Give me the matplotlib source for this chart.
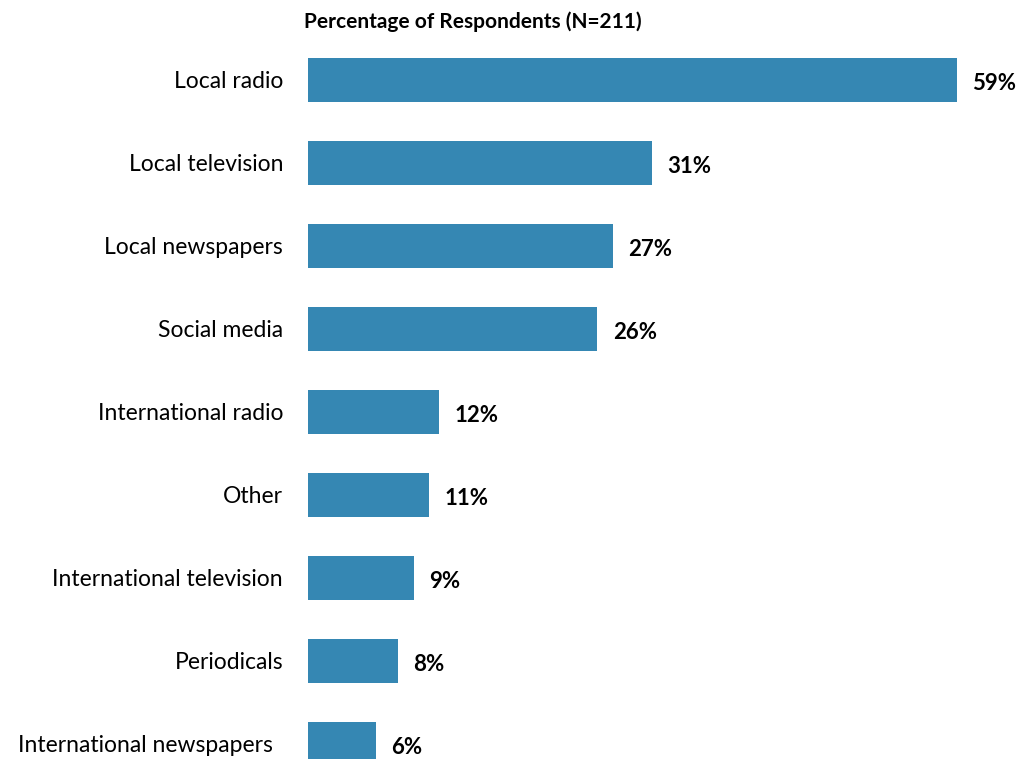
import matplotlib.pyplot as plt
import matplotlib.transforms as mtransforms

categories = ['Local radio', 'Local television', 'Local newspapers', 'Social media',
              'International radio', 'Other', 'International television',
              'Periodicals', 'International newspapers']
values = [59, 31.3, 27.7, 26.3, 11.9, 11.0, 9.6, 8.2, 6.2]
labels = ['59%', '31%', '27%', '26%', '12%', '11%', '9%', '8%', '6%']

W, H = 1021, 759
fig = plt.figure(figsize=(W / 100, H / 100), dpi=100)
plt.rcParams['font.family'] = ['Lato', 'DejaVu Sans']

# axes placed in pixels so the last bar runs off the bottom like the original
top_px = 38
ax = fig.add_axes([308 / W, 0, (W - 308) / W, (H - top_px) / H])

ypos = list(range(len(categories)))
ax.barh(ypos, values, height=0.53, color='#3587b3')
for y, v, lab in zip(ypos, values, labels):
    ax.text(v + 1.4, y + 0.04, lab, va='center', ha='left',
            fontsize=16, fontweight='bold', color='black')

ax.set_xlim(0, (W - 308) / 11)
ax.set_ylim((H - 80) / 83, (top_px - 80) / 83)
ax.set_yticks(ypos)
ax.set_yticklabels(categories, fontsize=16.5)
ax.tick_params(axis='y', length=0, pad=18)
ax.set_xticks([])
for s in ax.spines.values():
    s.set_visible(False)

# last label sits a bit further left in the original
last = ax.get_yticklabels()[-1]
last.set_transform(last.get_transform() +
                   mtransforms.ScaledTranslation(-10 / 100, 0, fig.dpi_scale_trans))

fig.text(473 / W, 1 - 22 / H, 'Percentage of Respondents (N=211)',
         ha='center', va='center', fontsize=15, fontweight='bold')

fig.savefig('out.png', dpi=100)
